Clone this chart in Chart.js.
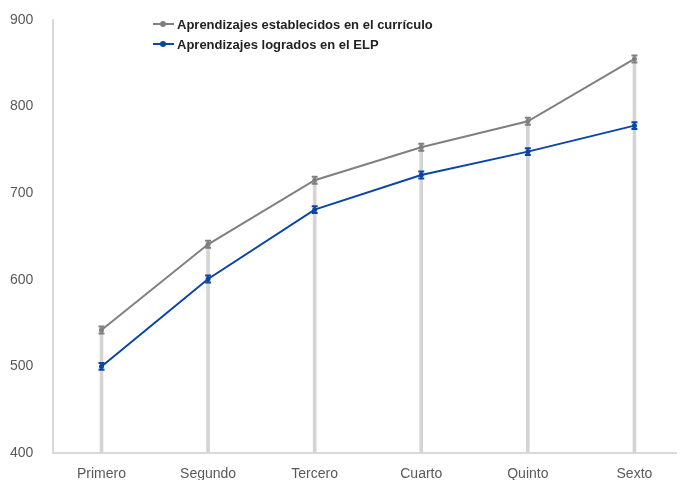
<!DOCTYPE html>
<html>
<head>
<meta charset="utf-8">
<script src="https://cdn.jsdelivr.net/npm/chart.js@4.4.0/dist/chart.umd.min.js"></script>
<style>
    html, body { margin: 0; padding: 0; background: #fff; overflow: hidden; }
    #wrap { position: relative; width: 680px; height: 480px; }
    #legend {
        position: absolute; left: 153px; top: 14px;
        font: bold 13px "Liberation Sans", Arial, sans-serif; color: #222;
    }
    .item { display: flex; align-items: center; height: 20px; }
    .mark { position: relative; width: 21px; height: 2px; margin-right: 3px; }
    .mark::after {
        content: ''; position: absolute; left: 7px; top: -2px;
        width: 6px; height: 6px; border-radius: 50%; background: inherit;
    }
</style>
</head>
<body>
<div id="wrap">
    <canvas id="chart" width="680" height="480"></canvas>
    <div id="legend"></div>
</div>
<script>
// Data
const grades = ['Primero', 'Segundo', 'Tercero', 'Cuarto', 'Quinto', 'Sexto'];
const curriculo = [542, 641, 715, 753, 783, 855];
const logrados = [500, 601, 681, 721, 748, 778];
const errCurriculo = [4, 4, 4, 4, 4, 4];
const errLogrados = [4, 4, 4, 4, 4, 4];
const yTicks = [400, 500, 600, 700, 800, 900];

const colors = {
    grey: '#808080',
    blue: '#0b45a6',
    drop: '#d4d4d4',
    axis: '#d9d9d9',
    text: '#595959'
};

const series = [
    { label: 'Aprendizajes establecidos en el currículo', data: curriculo, err: errCurriculo, color: colors.grey },
    { label: 'Aprendizajes logrados en el ELP', data: logrados, err: errLogrados, color: colors.blue }
];

// HTML legend
document.getElementById('legend').innerHTML = series.map(s =>
    `<div class="item"><span class="mark" style="background:${s.color}"></span>${s.label}</div>`
).join('');

// Error bars drawn through the y scale
const errorBars = {
    id: 'errorBars',
    afterDatasetsDraw(chart) {
        const ctx = chart.ctx;
        const xs = chart.scales.x, ys = chart.scales.y;
        series.forEach(s => {
            ctx.save();
            ctx.strokeStyle = s.color;
            ctx.lineWidth = 2;
            s.data.forEach((v, i) => {
                const px = xs.getPixelForValue(i);
                const top = ys.getPixelForValue(v + s.err[i]);
                const bot = ys.getPixelForValue(v - s.err[i]);
                ctx.beginPath();
                ctx.moveTo(px, top); ctx.lineTo(px, bot);
                ctx.moveTo(px - 3, top); ctx.lineTo(px + 3, top);
                ctx.moveTo(px - 3, bot); ctx.lineTo(px + 3, bot);
                ctx.stroke();
            });
            ctx.restore();
        });
    }
};

const font = { family: '"Liberation Sans", Arial, sans-serif', size: 14 };

new Chart(document.getElementById('chart'), {
    type: 'line',
    data: {
        datasets: [
            ...series.map(s => ({
                label: s.label,
                data: s.data.map((v, i) => ({ x: i, y: v })),
                borderColor: s.color,
                backgroundColor: s.color,
                borderWidth: 2,
                pointRadius: 2.5,
                pointBorderWidth: 0,
                tension: 0,
                order: 1
            })),
            {
                type: 'bar',
                label: 'drop',
                data: curriculo.map((v, i) => ({ x: i, y: v })),
                backgroundColor: colors.drop,
                barThickness: 3,
                order: 2
            }
        ]
    },
    options: {
        responsive: false,
        animation: false,
        layout: { padding: { top: 20, right: 0, left: 10, bottom: 0 } },
        plugins: {
            legend: { display: false },
            tooltip: { enabled: false }
        },
        scales: {
            x: {
                type: 'linear',
                min: -0.455,
                max: 5.39,
                offset: false,
                grid: { display: false, drawTicks: false, offset: false },
                border: { color: colors.axis, width: 2 },
                afterBuildTicks: scale => { scale.ticks = grades.map((g, i) => ({ value: i })); },
                afterFit: scale => { scale.height = 27; },
                ticks: {
                    color: colors.text,
                    font: font,
                    padding: 13,
                    maxRotation: 0,
                    autoSkip: false,
                    callback: v => grades[v]
                }
            },
            y: {
                min: 400,
                max: 900,
                grid: { display: false, drawTicks: false },
                border: { color: colors.axis, width: 2 },
                afterBuildTicks: scale => { scale.ticks = yTicks.map(v => ({ value: v })); },
                afterFit: scale => { scale.width = 43; },
                ticks: {
                    color: colors.text,
                    font: font,
                    padding: 10,
                    crossAlign: 'far'
                }
            }
        }
    },
    plugins: [errorBars]
});
</script>
</body>
</html>
